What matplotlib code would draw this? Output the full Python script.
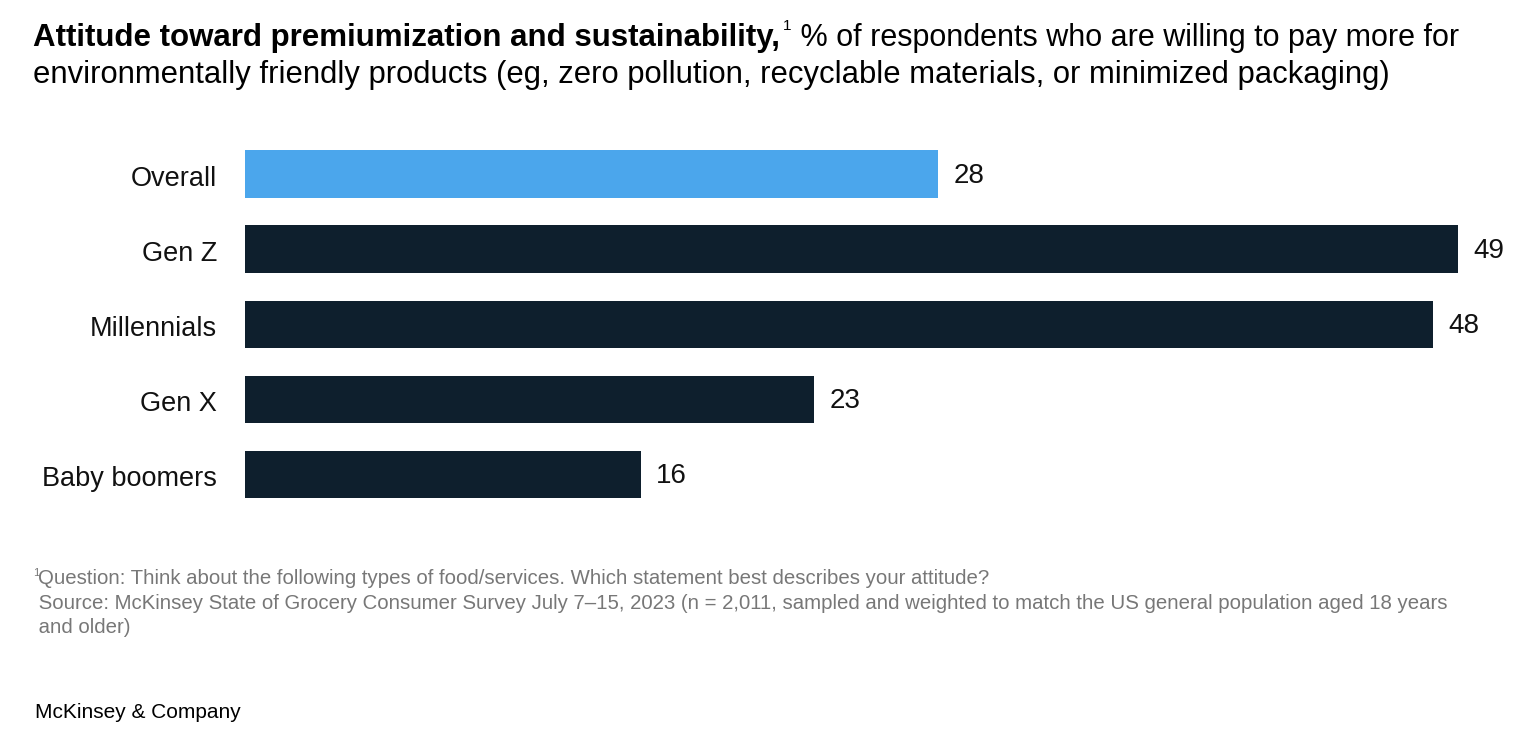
import matplotlib
matplotlib.use("Agg")
import matplotlib.pyplot as plt

categories = ["Overall", "Gen Z", "Millennials", "Gen X", "Baby boomers"]
values = [28, 49, 48, 23, 16]
bar_colors = ["#4BA6EC", "#0E1F2D", "#0E1F2D", "#0E1F2D", "#0E1F2D"]

title_bold = "Attitude toward premiumization and sustainability,"
title_rest = " % of respondents who are willing to pay more for"
title_line2 = "environmentally friendly products (eg, zero pollution, recyclable materials, or minimized packaging)"
footnotes = [
    "Question: Think about the following types of food/services. Which statement best describes your attitude?",
    " Source: McKinsey State of Grocery Consumer Survey July 7\u201315, 2023 (n = 2,011, sampled and weighted to match the US general population aged 18 years",
    " and older)",
]

plt.rcParams["font.family"] = ["Liberation Sans", "DejaVu Sans"]

W, H = 1536, 746
fig = plt.figure(figsize=(W / 100, H / 100), dpi=100)

def fx(px):
    return px / W

def fy(py):
    return 1 - py / H

ax = fig.add_axes([fx(245), fy(512), fx(1458) - fx(245), fy(136.5) - fy(512)])
ypos = list(range(len(categories)))
ax.barh(ypos, values, height=0.63, color=bar_colors)
ax.set_xlim(0, 49)
ax.set_ylim(len(categories) - 0.5, -0.5)
ax.axis("off")

for y, cat, v in zip(ypos, categories, values):
    ax.annotate(cat, (0, y), xytext=(-28, -5), textcoords="offset pixels",
                ha="right", va="center", fontsize=19.5, color="#111111")
    ax.annotate(str(v), (v, y), xytext=(15, -2), textcoords="offset pixels",
                ha="left", va="center", fontsize=20, color="#111111")

# title, mixed weights on the first line
renderer = fig.canvas.get_renderer()
t1 = fig.text(fx(33), fy(46), title_bold, fontsize=22.5, fontweight="bold",
              color="#000000", va="baseline")
bb = t1.get_window_extent(renderer)
sup = fig.text(bb.x1 / W + fx(3), fy(30), "1", fontsize=11, color="#000000", va="baseline")
sb = sup.get_window_extent(renderer)
fig.text(sb.x1 / W, fy(46), title_rest, fontsize=22, color="#000000", va="baseline")
fig.text(fx(33), fy(83), title_line2, fontsize=22.3, color="#000000", va="baseline")

# footnotes
fig.text(fx(33), fy(576), "1", fontsize=8, color="#777777", va="baseline")
fig.text(fx(38), fy(584), footnotes[0], fontsize=14.7, color="#777777", va="baseline")
fig.text(fx(33), fy(609), footnotes[1], fontsize=14.7, color="#777777", va="baseline")
fig.text(fx(33), fy(633), footnotes[2], fontsize=14.7, color="#777777", va="baseline")

fig.text(fx(35), fy(718), "McKinsey & Company", fontsize=15, color="#000000", va="baseline")

fig.savefig("out.png", dpi=100, facecolor="white")
